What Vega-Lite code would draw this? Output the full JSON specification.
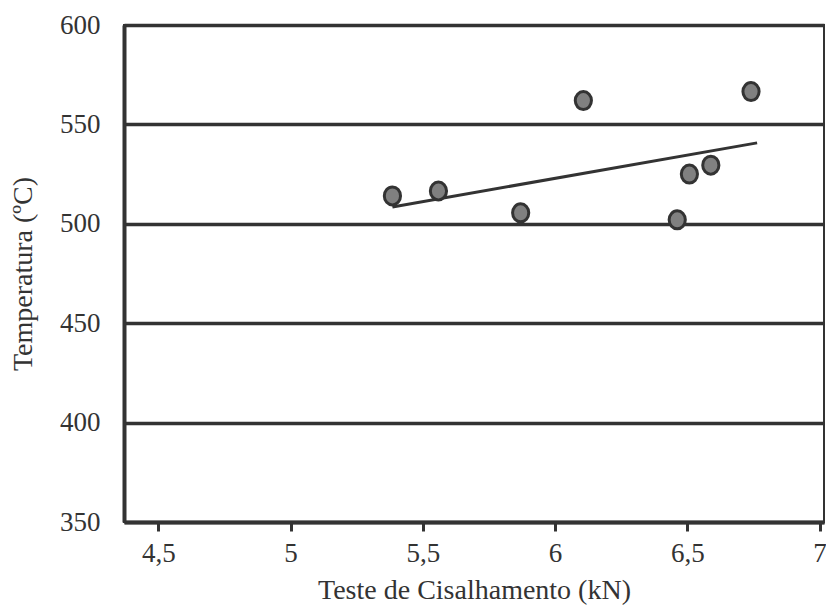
{
  "$schema": "https://vega.github.io/schema/vega-lite/v6.json",
  "width": 700,
  "height": 497,
  "autosize": "none",
  "padding": {"left": 124, "top": 25, "right": 2, "bottom": 88},
  "background": "white",
  "config": {
    "view": {"stroke": "#333333", "strokeWidth": 2},
    "font": "Liberation Serif",
    "axis": {
      "labelFont": "Liberation Serif",
      "titleFont": "Liberation Serif",
      "labelColor": "#333333",
      "titleColor": "#333333",
      "labelFontSize": 27,
      "titleFontSize": 28,
      "titleFontWeight": "normal",
      "domainColor": "#333333",
      "tickColor": "#333333",
      "gridColor": "#333333"
    }
  },
  "datasets": {
    "pts": [
      {"cis": 5.385, "temp": 514},
      {"cis": 5.559, "temp": 516.5},
      {"cis": 5.870, "temp": 505.5},
      {"cis": 6.107, "temp": 562},
      {"cis": 6.462, "temp": 502},
      {"cis": 6.508, "temp": 525},
      {"cis": 6.589, "temp": 529.5},
      {"cis": 6.741, "temp": 566.5}
    ],
    "trend": [
      {"cis": 5.385, "temp": 508.5},
      {"cis": 6.764, "temp": 540.7}
    ]
  },
  "layer": [
    {
      "data": {"name": "trend"},
      "mark": {"type": "line", "color": "#333333", "strokeWidth": 3},
      "encoding": {
        "x": {
          "field": "cis", "type": "quantitative",
          "scale": {"domain": [4.37, 7.017], "zero": false, "nice": false},
          "axis": {
            "title": "Teste de Cisalhamento (kN)",
            "values": [4.5, 5, 5.5, 6, 6.5, 7],
            "format": ",.1~f",
            "formatType": "number",
            "labelExpr": "replace(datum.label, '.', ',')",
            "grid": false,
            "domainWidth": 4,
            "tickSize": 9,
            "tickWidth": 3,
            "labelPadding": 9,
            "titlePadding": 10
          }
        },
        "y": {
          "field": "temp", "type": "quantitative",
          "scale": {"domain": [350, 600], "zero": false, "nice": false},
          "axis": {
            "title": "Temperatura (ºC)",
            "values": [350, 400, 450, 500, 550, 600],
            "grid": true,
            "gridWidth": 3.5,
            "ticks": false,
            "domainWidth": 4,
            "labelPadding": 24,
            "titlePadding": 22
          }
        }
      }
    },
    {
      "data": {"name": "pts"},
      "mark": {"type": "point", "shape": "M -0.9 0 A 0.9 1 0 1 0 0.9 0 A 0.9 1 0 1 0 -0.9 0 Z", "filled": true, "fill": "#808080", "stroke": "#333333", "strokeWidth": 3, "opacity": 1, "size": 324},
      "encoding": {
        "x": {"field": "cis", "type": "quantitative"},
        "y": {"field": "temp", "type": "quantitative"}
      }
    }
  ]
}
